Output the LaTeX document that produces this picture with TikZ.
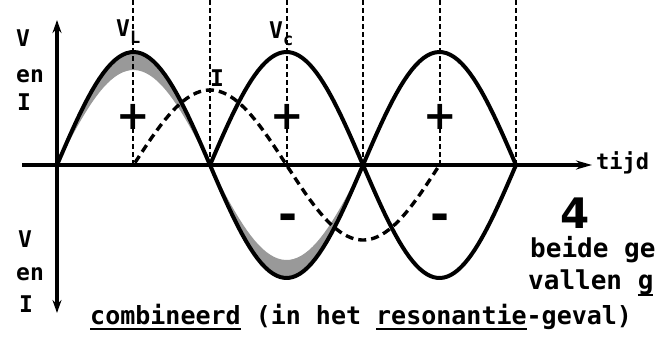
\documentclass[tikz,border=0pt]{standalone}
\usepackage{fontspec}
\setmainfont{DejaVu Sans Mono}
\newfontfamily\tekenfont{DejaVu Sans}
\usetikzlibrary{arrows.meta}

% thick underline as in the typed caption
\newcommand{\streep}[1]{{\setbox0=\hbox{#1}\rlap{\raisebox{-6pt}{\rule{\wd0}{2pt}}}\box0}}
% large typed subscript
\newcommand{\onder}[1]{\raisebox{-7pt}{\fontsize{17}{17}\selectfont #1}}

\begin{document}
\begin{tikzpicture}[
  x=1pt, y=-1pt,
  golf/.style={line width=4pt,line join=round},
  stroom/.style={line width=3.4pt,dash pattern=on 8pt off 5pt},
  hulplijn/.style={line width=2pt,dash pattern=on 5pt off 3pt},
  as/.style={line width=3.4pt},
  lbl/.style={inner sep=0pt,font=\bfseries\fontsize{23}{23}\selectfont},
  tekst/.style={inner sep=0pt,font=\bfseries\fontsize{25}{25}\selectfont},
  teken/.style={inner sep=0pt,font=\tekenfont\bfseries\fontsize{40}{40}\selectfont},
  schaduw/.style={fill=black!40},
]
  \useasboundingbox (0,0) rectangle (656,338);

  % stippled band inside the first period of V_L
  \fill[schaduw] plot[domain=57:363,samples=80] (\x,{165-113*sin((\x-57)/153*180)})
    -- plot[domain=363:57,samples=80] (\x,{165-95*sin((\x-57)/153*180)}) -- cycle;

  % guide lines at every quarter period
  \foreach \xv in {133,210,287,363,440,516}
    \draw[hulplijn] (\xv,0) -- (\xv,165);

  % axes
  \draw[as,-{Stealth[length=16pt,width=9pt]}] (22,165) -- (592,165);
  \draw[as,{Stealth[length=13pt,width=9pt]}-{Stealth[length=13pt,width=9pt]}] (57,20) -- (57,313);

  % V_L, V_c and I
  \draw[golf] plot[domain=57:516,samples=120] (\x,{165-113*sin((\x-57)/153*180)});
  \draw[golf] plot[domain=210:516,samples=90] (\x,{165+113*sin((\x-57)/153*180)});
  \draw[stroom] plot[domain=135:440,samples=90] (\x,{165-75*sin((\x-133.5)/153*180)});

  % curve labels
  \node[lbl,anchor=base west] (vl) at (116,36) {V\onder{L}};
  \node[lbl,anchor=base west] (vc) at (269,38) {V\onder{c}};
  \node[lbl,anchor=base west] (il) at (210,86) {I};

  % signs of the half periods
  \node[teken] (plus1) at (133,117) {+};
  \node[teken] (plus2) at (287,117) {+};
  \node[teken] (plus3) at (440,117) {+};
  \node[teken,font=\tekenfont\bfseries\fontsize{46}{46}\selectfont] (min1) at (288,222) {-};
  \node[teken,font=\tekenfont\bfseries\fontsize{46}{46}\selectfont] (min2) at (440,222) {-};

  % axis labels
  \node[lbl,anchor=base west] (vboven) at (16,46) {V};
  \node[lbl,anchor=base west] (enboven) at (16,82) {en};
  \node[lbl,anchor=base west] (iboven) at (17,110) {I};
  \node[lbl,anchor=base west] (vonder) at (18,247) {V};
  \node[lbl,anchor=base west] (enonder) at (16,280) {en};
  \node[lbl,anchor=base west] (ionder) at (19,312) {I};
  \node[lbl,anchor=west,font=\bfseries\fontsize{22}{22}\selectfont] (tijd) at (596,163) {tijd};

  % figure number and caption
  \node[inner sep=0pt,font=\tekenfont\bfseries\fontsize{42}{42}\selectfont] (nr) at (575,213) {4};
  \node[tekst,anchor=west,font=\bfseries\fontsize{26}{26}\selectfont] (regel1) at (530,250) {beide ge};
  \node[tekst,anchor=west,font=\bfseries\fontsize{26}{26}\selectfont] (regel2) at (528,283) {vallen \streep{g}};
  \node[tekst,anchor=west] (regel3) at (90,317)
    {\streep{combineerd} (in het \streep{resonantie}-geval)};
\end{tikzpicture}
\end{document}
